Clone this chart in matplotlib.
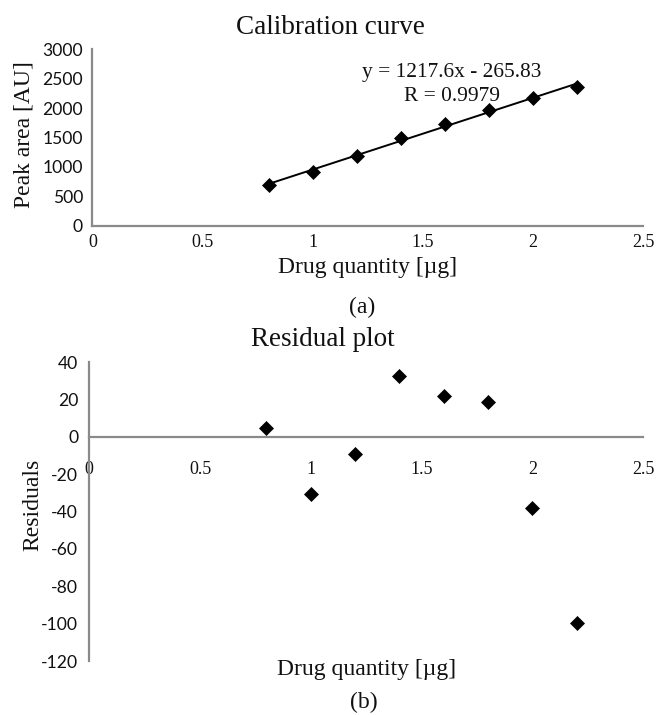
import numpy as np
import matplotlib
matplotlib.use('Agg')
import matplotlib.pyplot as plt

# --------------------------------------------------
# data
# --------------------------------------------------
drug_qty = [0.8, 1.0, 1.2, 1.4, 1.6, 1.8, 2.0, 2.2]
peak_area = [695, 918, 1192, 1486, 1724, 1968, 2167, 2364]
residuals = [4.5, -30.9, -9.4, 32.5, 22.0, 18.4, -38.3, -99.5]

x_ticks = [0, 0.5, 1, 1.5, 2, 2.5]
x_tick_labels = ['0', '0.5', '1', '1.5', '2', '2.5']
y_ticks_top = [0, 500, 1000, 1500, 2000, 2500, 3000]
y_ticks_bottom = [-120, -100, -80, -60, -40, -20, 0, 20, 40]

eq_text = 'y = 1217.6x - 265.83'
r_text = 'R = 0.9979'

SERIF = 'Liberation Serif'
SANS = 'Lato'
AXIS_GRAY = '#8a8a8a'
TXT = '#111111'

W, H = 657, 715
fig = plt.figure(figsize=(W / 100, H / 100), dpi=100)


def px(x, y):
    # pixel (from top left) -> figure fraction
    return x / W, 1 - y / H


def style_axes(ax, ypad, xpad):
    for s in ['top', 'right']:
        ax.spines[s].set_visible(False)
    for s in ['left', 'bottom']:
        ax.spines[s].set_color(AXIS_GRAY)
        ax.spines[s].set_linewidth(1.6)
    ax.tick_params(axis='both', length=0)
    ax.tick_params(axis='y', pad=ypad)
    ax.tick_params(axis='x', pad=xpad)
    ax.set_xlim(0, 2.5)
    ax.set_xticks(x_ticks)
    ax.set_xticklabels(x_tick_labels, fontfamily=SERIF, fontsize=13, color=TXT)
    for lab in ax.get_yticklabels():
        lab.set_fontfamily(SANS)
        lab.set_fontsize(12.6)
        lab.set_color(TXT)


# --------------------------------------------------
# (a) calibration curve
# --------------------------------------------------
ax1 = fig.add_axes([92.4 / W, 1 - 225.7 / H, 550.6 / W, 176.4 / H])
ax1.set_ylim(0, 3000)
ax1.set_yticks(y_ticks_top)
ax1.set_yticklabels([str(v) for v in y_ticks_top])

slope, icept = np.polyfit(drug_qty, peak_area, 1)
xl = np.array([drug_qty[0], drug_qty[-1]])
ax1.plot(xl, slope * xl + icept, color='black', lw=1.4, zorder=2)
ax1.plot(drug_qty, peak_area, ls='none', marker='D', ms=7, color='black',
         mec='black', mew=0.5, zorder=3)
style_axes(ax1, ypad=6.8, xpad=6.2)

ax1.text(0.653, 0.871, eq_text, transform=ax1.transAxes, ha='center', va='center',
         fontfamily=SERIF, fontsize=15.4, color=TXT)
ax1.text(0.654, 0.735, r_text, transform=ax1.transAxes, ha='center', va='center',
         fontfamily=SERIF, fontsize=15.4, color=TXT)

fig.text(*px(330, 28), 'Calibration curve', ha='center', va='center',
         fontfamily=SERIF, fontsize=19.5, color=TXT)
fig.text(*px(24, 134.5), 'Peak area [AU]', ha='center', va='center', rotation=90,
         fontfamily=SERIF, fontsize=17, color=TXT)
fig.text(*px(368, 268), 'Drug quantity [µg]', ha='center', va='center',
         fontfamily=SERIF, fontsize=17, color=TXT)
fig.text(*px(362, 307), '(a)', ha='center', va='center',
         fontfamily=SERIF, fontsize=17, color=TXT)

# --------------------------------------------------
# (b) residual plot
# --------------------------------------------------
ax2 = fig.add_axes([89.3 / W, 1 - 661 / H, 553.7 / W, 299 / H])
ax2.set_ylim(-120, 40)
ax2.set_yticks(y_ticks_bottom)
ax2.set_yticklabels([str(v) for v in y_ticks_bottom])
ax2.plot(drug_qty, residuals, ls='none', marker='D', ms=7, color='black',
         mec='black', mew=0.5, zorder=3)
ax2.spines['bottom'].set_position(('data', 0))
style_axes(ax2, ypad=8, xpad=17.2)

fig.text(*px(323, 340), 'Residual plot', ha='center', va='center',
         fontfamily=SERIF, fontsize=19.5, color=TXT)
fig.text(*px(33, 505), 'Residuals', ha='center', va='center', rotation=90,
         fontfamily=SERIF, fontsize=17, color=TXT)
fig.text(*px(367, 670), 'Drug quantity [µg]', ha='center', va='center',
         fontfamily=SERIF, fontsize=17, color=TXT)
fig.text(*px(364, 702), '(b)', ha='center', va='center',
         fontfamily=SERIF, fontsize=17, color=TXT)

fig.savefig('out.png', dpi=100)
